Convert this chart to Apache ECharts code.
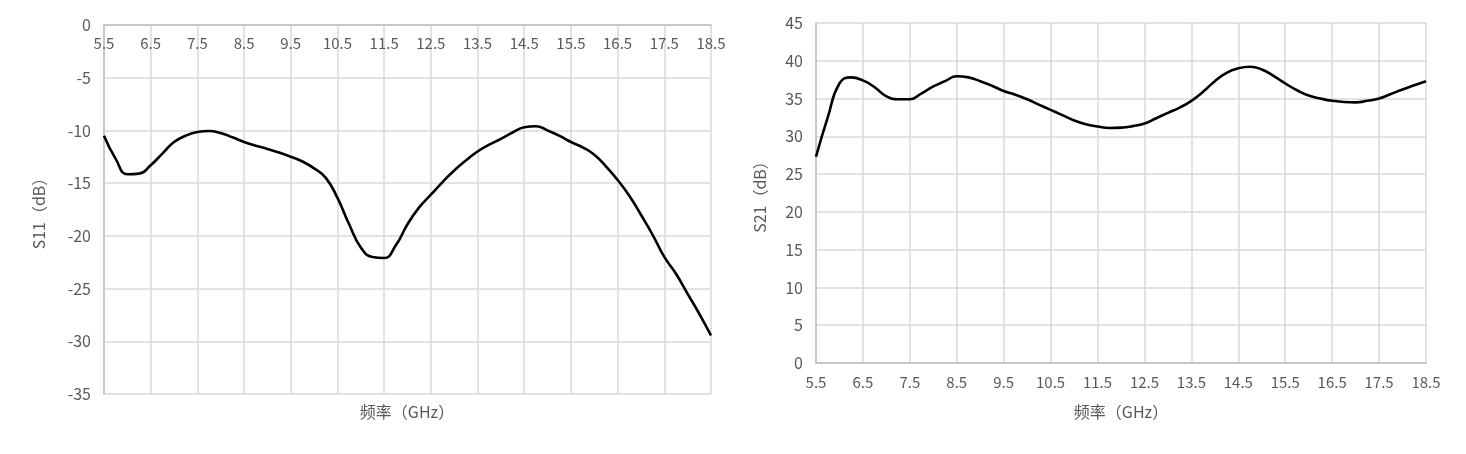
<!DOCTYPE html>
<html>
<head>
<meta charset="utf-8">
<script src="https://cdn.jsdelivr.net/npm/echarts@6/dist/echarts.min.js"></script>
<style>
  html, body { margin: 0; padding: 0; background: #fff; }
  #main { width: 1466px; height: 454px; }
</style>
</head>
<body>
<div id="main"></div>
<script>
// tick labels shared by both frequency axes (GHz)
var freqTicks = [5.5, 6.5, 7.5, 8.5, 9.5, 10.5, 11.5, 12.5, 13.5, 14.5, 15.5, 16.5, 17.5, 18.5];

// sample frequencies (GHz) the curves were read at
var freq = [5.5, 5.75, 6.0, 6.25, 6.5, 6.75, 7.0, 7.25, 7.5, 7.75, 8.0, 8.25, 8.5, 8.75, 9.0, 9.25, 9.5, 9.75,
  10.0, 10.25, 10.5, 10.75, 11.0, 11.25, 11.5, 11.75, 12.0, 12.25, 12.5, 12.75, 13.0, 13.25, 13.5, 13.75,
  14.0, 14.25, 14.5, 14.75, 15.0, 15.25, 15.5, 15.75, 16.0, 16.25, 16.5, 16.75, 17.0, 17.25, 17.5, 17.75,
  18.0, 18.25, 18.5];

// S11 (dB)
var s11 = [-10.5, -12.7, -14.15, -14.1, -13.3, -12.2, -11.1, -10.5, -10.15, -10.05, -10.25, -10.65, -11.1, -11.45, -11.75, -12.1, -12.5, -12.95,
  -13.6, -14.5, -16.4, -18.9, -21.1, -22.0, -22.1, -20.9, -18.9, -17.3, -16.1, -14.9, -13.8, -12.85, -12.0, -11.35,
  -10.8, -10.2, -9.7, -9.6, -10.0, -10.5, -11.1, -11.6, -12.3, -13.4, -14.7, -16.2, -18.0, -19.9, -22.0, -23.6,
  -25.5, -27.4, -29.45];

// S21 (dB)
var s21 = [27.3, 32.5, 37.0, 37.8, 37.4, 36.5, 35.3, 34.9, 34.9, 35.7, 36.6, 37.3, 37.95, 37.8, 37.3, 36.7, 36.0, 35.5,
  34.9, 34.2, 33.5, 32.8, 32.1, 31.6, 31.3, 31.1, 31.15, 31.35, 31.7, 32.4, 33.1, 33.8, 34.7, 35.9,
  37.3, 38.4, 39.0, 39.2, 38.85, 38.0, 37.0, 36.1, 35.4, 35.0, 34.7, 34.55, 34.5, 34.7, 35.0, 35.6,
  36.2, 36.75, 37.3];

function pairs(xs, ys) {
  var out = [];
  for (var i = 0; i < xs.length; i++) out.push([xs[i], ys[i]]);
  return out;
}

var font = '"Noto Sans CJK SC", "Noto Sans", sans-serif';
var textColor = '#595959';
var gridColor = '#d9d9d9';
var axisColor = '#bfbfbf';

function freqAxis(gridIndex, pos) {
  return {
    type: 'value',
    gridIndex: gridIndex,
    position: pos,
    min: 5.5,
    max: 18.5,
    axisLine: { show: true, onZero: false, lineStyle: { color: axisColor, width: 1.5 } },
    axisTick: { show: false, customValues: freqTicks },
    axisLabel: {
      customValues: freqTicks,
      inside: pos === 'top',
      color: textColor, fontFamily: font, fontSize: 15, margin: pos === 'top' ? 11 : 12,
      formatter: function (v) { return v.toFixed(1); }
    },
    splitLine: { show: true, lineStyle: { color: gridColor, width: 1.5 } }
  };
}

function dbAxis(gridIndex, min, max, name, gap) {
  return {
    type: 'value',
    gridIndex: gridIndex,
    min: min,
    max: max,
    interval: 5,
    name: name,
    nameLocation: 'middle',
    nameGap: gap,
    nameTextStyle: { color: textColor, fontFamily: font, fontSize: 16 },
    axisLine: { show: true, lineStyle: { color: axisColor, width: 1.5 } },
    axisTick: { show: false },
    axisLabel: { color: textColor, fontFamily: font, fontSize: 16, margin: 13 },
    splitLine: { show: true, lineStyle: { color: gridColor, width: 1.5 } }
  };
}

var chart = echarts.init(document.getElementById('main'), null, { renderer: 'canvas' });
chart.setOption({
  animation: false,
  grid: [
    { left: 104, top: 25, width: 607, height: 369 },
    { left: 816, top: 23, width: 610, height: 340 }
  ],
  xAxis: [freqAxis(0, 'top'), freqAxis(1, 'bottom')],
  yAxis: [dbAxis(0, -35, 0, 'S11（dB）', 57), dbAxis(1, 0, 45, 'S21（dB）', 48)],
  graphic: [
    { type: 'text', x: 407, y: 412, style: { text: '频率（GHz）', align: 'center', verticalAlign: 'middle', fill: textColor, font: '16px ' + font } },
    { type: 'text', x: 1121, y: 412, style: { text: '频率（GHz）', align: 'center', verticalAlign: 'middle', fill: textColor, font: '16px ' + font } }
  ],
  series: [
    {
      type: 'line', xAxisIndex: 0, yAxisIndex: 0,
      data: pairs(freq, s11),
      smooth: 0.5, showSymbol: false,
      lineStyle: { color: '#000', width: 2.6 }
    },
    {
      type: 'line', xAxisIndex: 1, yAxisIndex: 1,
      data: pairs(freq, s21),
      smooth: 0.5, showSymbol: false,
      lineStyle: { color: '#000', width: 2.6 }
    }
  ]
});
</script>
</body>
</html>
